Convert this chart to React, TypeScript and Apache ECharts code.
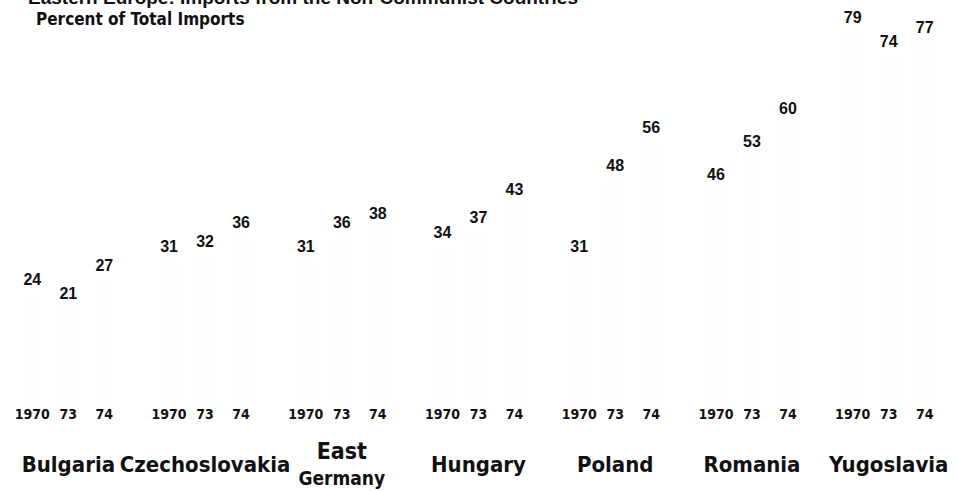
import React, { useEffect, useRef } from "react";
import * as echarts from "echarts";

const countries = ["Bulgaria", "Czechoslovakia", "East\nGermany", "Hungary", "Poland", "Romania", "Yugoslavia"];
const years = ["1970", "73", "74"];
const v1970 = [24, 31, 31, 34, 31, 46, 79];
const v1973 = [21, 32, 36, 37, 48, 53, 74];
const v1974 = [27, 36, 38, 43, 56, 60, 77];
const titleText = "Eastern Europe: Imports from the Non-Communist Countries";
const subtitleText = "Percent of Total Imports";

const narrow = "'DejaVu Sans Condensed', 'Liberation Sans Narrow', sans-serif";
const sans = "'Liberation Sans', Arial, sans-serif";

export default function App() {
  const ref = useRef<HTMLDivElement>(null);
  useEffect(() => {
    if (!ref.current) return;
    const chart = echarts.init(ref.current, undefined, { renderer: "svg" });
    const valueSets = [v1970, v1973, v1974];
    const series: any[] = [];
    valueSets.forEach((vals, i) => {
      series.push({
        type: "bar",
        name: years[i],
        stack: "s" + i,
        data: vals,
        barWidth: 24,
        barGap: "50%",
        clip: false,
        itemStyle: { color: "#fefefe" },
        label: {
          show: true,
          position: "top",
          distance: 4,
          color: "#111",
          fontFamily: sans,
          fontWeight: "bold",
          fontSize: 16,
        },
      });
      series.push({
        type: "bar",
        name: years[i] + " label",
        stack: "s" + i,
        data: vals.map(() => -0.01),
        barWidth: 24,
        barGap: "50%",
        clip: false,
        itemStyle: { color: "rgba(0,0,0,0)" },
        label: {
          show: true,
          position: "bottom",
          distance: 1,
          formatter: () => years[i],
          color: "#111",
          fontFamily: narrow,
          fontWeight: "bold",
          fontSize: 14,
        },
      });
    });
    chart.setOption({
      animation: false,
      grid: { left: 0, right: 0, top: 25, bottom: 81, containLabel: false },
      xAxis: {
        type: "category",
        data: countries,
        axisLine: { show: false },
        axisTick: { show: false },
        axisLabel: {
          margin: 58,
          verticalAlign: "middle",
          interval: 0,
          color: "#111",
          fontFamily: narrow,
          fontWeight: "bold",
          fontSize: 22,
          lineHeight: 28,
          formatter: (v: string) =>
            v.indexOf("\n") >= 0 ? v.split("\n").map((s, k) => (k === 0 ? "{a|" + s + "}" : "{b|" + s + "}")).join("\n") : v,
          rich: {
            a: { fontFamily: narrow, fontWeight: "bold", fontSize: 23, lineHeight: 28, color: "#111" },
            b: { fontFamily: narrow, fontWeight: "bold", fontSize: 19, lineHeight: 26, color: "#111" },
          },
        },
      },
      yAxis: {
        type: "value",
        min: 0,
        max: 80,
        show: false,
        splitLine: { show: false },
      },
      graphic: [
        {
          type: "text",
          left: 28,
          top: -12,
          style: { text: titleText, fontFamily: sans, fontWeight: "bold", fontSize: 19, fill: "#111" },
        },
        {
          type: "text",
          left: 36,
          top: 10,
          style: { text: subtitleText, fontFamily: narrow, fontWeight: "bold", fontSize: 17, fill: "#111" },
        },
      ],
      series,
    });
    return () => chart.dispose();
  }, []);
  return <div ref={ref} style={{ width: 957, height: 491, position: "absolute", left: 0, top: 0, background: "#fff" }} />;
}
